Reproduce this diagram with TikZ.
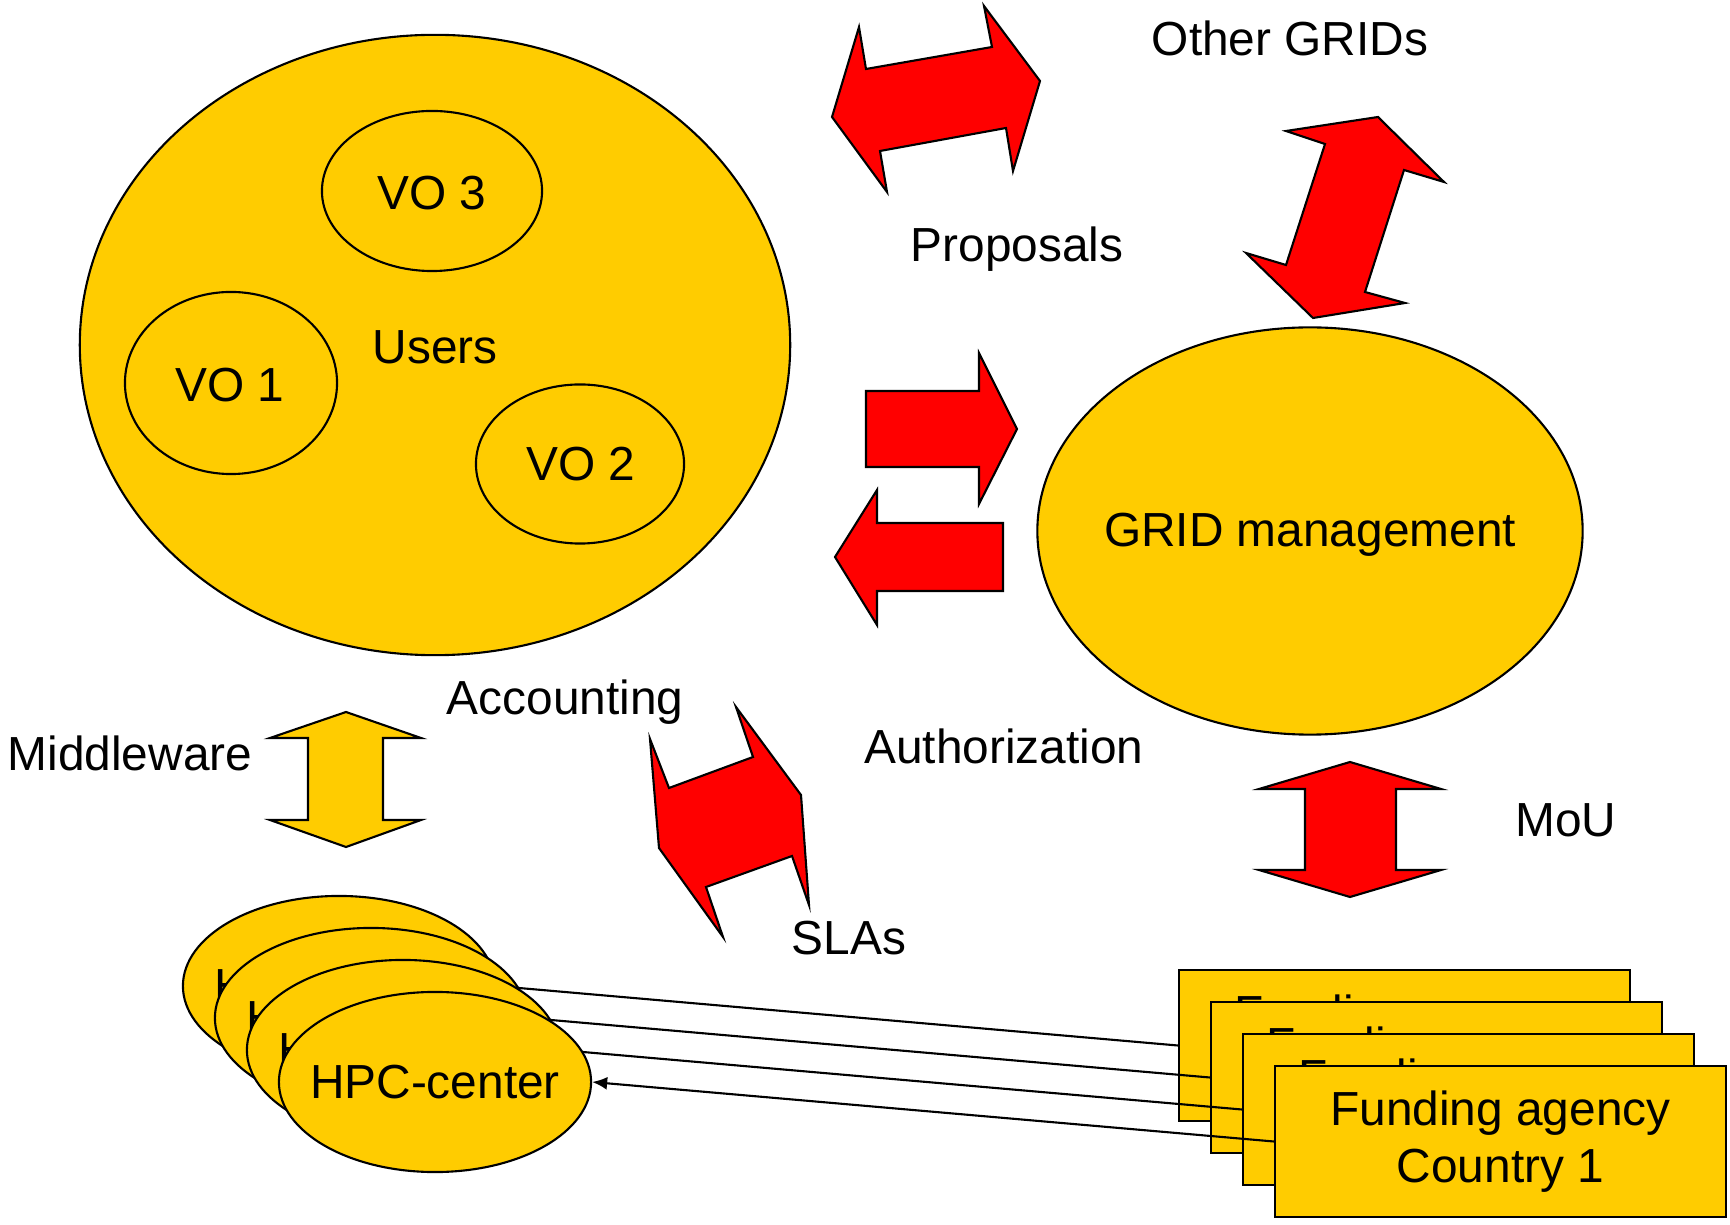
\documentclass[tikz,border=0pt]{standalone}
\usepackage{fontspec}
\setmainfont{Liberation Sans}
\usetikzlibrary{shapes.geometric,arrows.meta}

\definecolor{gold}{RGB}{255,204,0}
\definecolor{arrowred}{RGB}{255,0,0}

\tikzset{
    blob/.style={ellipse, draw=black, line width=0.6pt, fill=gold, inner sep=0pt},
    agency/.style={rectangle, draw=black, line width=0.6pt, fill=gold, align=center,
        minimum width=4.51cm, minimum height=1.51cm, font=\fontsize{13.6}{16.2}\selectfont},
    label/.style={anchor=base, font=\fontsize{13.6}{16}\selectfont},
    redblock/.style={draw=black, line width=0.6pt, fill=arrowred, line join=miter},
    goldblock/.style={draw=black, line width=0.6pt, fill=gold, line join=miter}
}

\begin{document}
\begin{tikzpicture}[x=0.01cm, y=-0.01cm, font=\fontsize{13.6}{16}\selectfont]
        \useasboundingbox (0,0) rectangle (1730,1225);

        % users with their VOs
        \node[blob, minimum width=7.1cm, minimum height=6.2cm] (users) at (435,345) {};
        \node[label] (userstext) at (435,364) {Users};
        \node[blob, minimum width=2.2cm, minimum height=1.6cm] (vo3) at (432,191) {};
        \node[blob, minimum width=2.12cm, minimum height=1.82cm] (vo1) at (231,383) {};
        \node[blob, minimum width=2.08cm, minimum height=1.59cm] (vo2) at (580,464) {};
        \node[label] at (432,210) {VO 3};
        \node[label] at (230,402) {VO 1};
        \node[label] at (581,481) {VO 2};

        \node[blob, minimum width=5.45cm, minimum height=4.07cm] (grid) at (1310,531) {};
        \node[label] at (1310,547) {GRID management};

        % texts
        \node[label] (other) at (1290,56) {Other GRIDs};
        \node[label] (proposals) at (1017,262) {Proposals};
        \node[label] (accounting) at (565,715) {Accounting};
        \node[label] (middleware) at (130,771) {Middleware};
        \node[label] (authorization) at (1004,764) {Authorization};
        \node[label] (mou) at (1566,837) {MoU};
        \node[label] (slas) at (849,955) {SLAs};

        % block arrows
        \draw[redblock] (832,117) -- (859,27) -- (866,69) -- (992,47) -- (984,6) -- (1040,81)
            -- (1013,171) -- (1006,128) -- (880,151) -- (887,192) -- cycle;
        \draw[redblock] (1378,117) -- (1444,182) -- (1404,170) -- (1365,292) -- (1405,303)
            -- (1313,318) -- (1246,253) -- (1286,265) -- (1325,144) -- (1286,131) -- cycle;
        \draw[redblock] (866,391) -- (979,391) -- (979,353) -- (1017,429) -- (979,504)
            -- (979,467) -- (866,467) -- cycle;
        \draw[redblock] (1003,523) -- (877,523) -- (877,490) -- (835,557) -- (877,625)
            -- (877,591) -- (1003,591) -- cycle;
        \draw[redblock] (736,707) -- (801,795) -- (809,905) -- (792,856) -- (706,887)
            -- (723,937) -- (659,848) -- (650,739) -- (669,788) -- (753,757) -- cycle;
        \draw[redblock] (1350,762) -- (1441,789) -- (1396,789) -- (1396,870) -- (1441,870)
            -- (1350,897) -- (1259,870) -- (1305,870) -- (1305,789) -- (1259,789) -- cycle;
        \draw[goldblock] (346,712) -- (421,738) -- (383,738) -- (383,820) -- (421,820)
            -- (346,847) -- (270,820) -- (308,820) -- (308,738) -- (270,738) -- cycle;

        % stacks of centers and agencies
        \foreach \k in {3,2,1,0}{
            \pgfmathsetmacro{\hx}{435 - 32*\k}
            \pgfmathsetmacro{\hy}{1082 - 32*\k}
            \pgfmathsetmacro{\fx}{1500.5 - 32*\k}
            \pgfmathsetmacro{\fy}{1141.5 - 32*\k}

            \node[blob, minimum width=3.12cm, minimum height=1.8cm] (hpc\k) at (\hx,\hy) {};
            \node (hpctext\k) at (hpc\k) {HPC-center};
            \node[agency] (fund\k) at (\fx,\fy) {Funding agency\\Country 1};
            \draw[line width=0.6pt, -{Latex[length=1.5mm, width=1.3mm]}] (fund\k.west) -- (hpc\k.east);
        };

    \end{tikzpicture}
\end{document}
